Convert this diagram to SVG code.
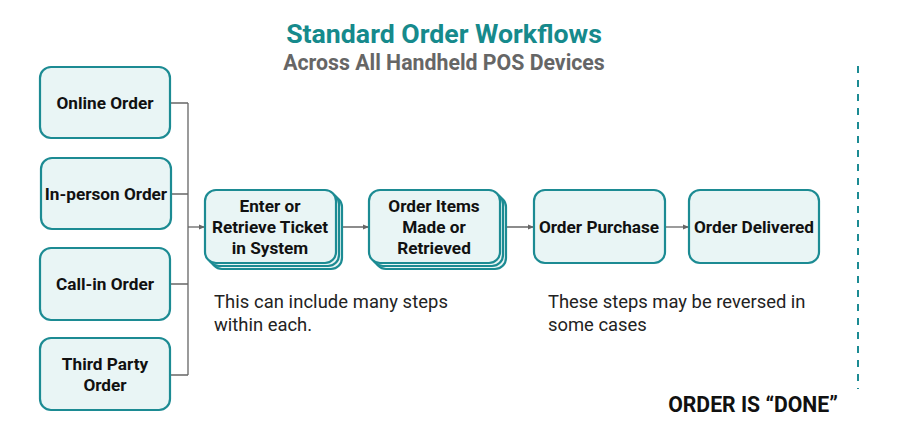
<svg xmlns="http://www.w3.org/2000/svg" width="900" height="423" viewBox="0 0 900 423">
<defs>
<style>
.box{fill:#e9f5f5;stroke:#1c8b93;stroke-width:2.2}
.lbl{font-family:Roboto,"Liberation Sans",sans-serif;font-weight:bold;font-size:17.2px;fill:#111;text-anchor:middle}
.conn{fill:none;stroke:#666;stroke-width:1.3}
.note{font-family:Roboto,"Liberation Sans",sans-serif;font-size:18.4px;fill:#222}
</style>
<marker id="arr" viewBox="0 0 10 10" refX="10" refY="5" markerWidth="6" markerHeight="6" orient="auto" markerUnits="userSpaceOnUse">
<path d="M0,1 L10,5 L0,9 z" fill="#666"/>
</marker>
</defs>
<rect width="900" height="423" fill="#fff"/>
<text x="444" y="43" text-anchor="middle" font-family="Roboto,'Liberation Sans',sans-serif" font-weight="bold" font-size="26.7" fill="#168a8c">Standard Order Workflows</text>
<text x="444" y="70" text-anchor="middle" font-family="Roboto,'Liberation Sans',sans-serif" font-weight="bold" font-size="21.3" fill="#666">Across All Handheld POS Devices</text>

<g id="connectors">
<path class="conn" d="M170,103 H188 M171,194 H188 M170,284 H188 M170,375 H188 M188,103 V375"/>
<path class="conn" d="M188,227 H205" marker-end="url(#arr)"/>
<path class="conn" d="M336,227 H369" marker-end="url(#arr)"/>
<path class="conn" d="M500,227 H534" marker-end="url(#arr)"/>
<path class="conn" d="M665,227 H689" marker-end="url(#arr)"/>
</g>

<g id="online-order"><rect class="box" x="40" y="67" width="130" height="71" rx="11"/><text class="lbl" x="105" y="109">Online Order</text></g>
<g id="inperson-order"><rect class="box" x="41" y="158" width="130" height="71" rx="11"/><text class="lbl" x="106" y="200">In-person Order</text></g>
<g id="callin-order"><rect class="box" x="40" y="248" width="130" height="72" rx="11"/><text class="lbl" x="105" y="290">Call-in Order</text></g>
<g id="thirdparty-order"><rect class="box" x="40" y="338" width="130" height="72" rx="11"/><text class="lbl" x="105" y="370">Third Party</text><text class="lbl" x="105" y="391">Order</text></g>

<g id="enter-ticket">
<rect class="box" x="211" y="196" width="131" height="73" rx="11"/>
<rect class="box" x="208" y="193" width="131" height="73" rx="11"/>
<rect class="box" x="205" y="190" width="131" height="73" rx="11"/>
<text class="lbl" x="270" y="212">Enter or</text><text class="lbl" x="270" y="233">Retrieve Ticket</text><text class="lbl" x="270" y="254">in System</text>
</g>
<g id="order-items">
<rect class="box" x="375" y="196" width="131" height="73" rx="11"/>
<rect class="box" x="372" y="193" width="131" height="73" rx="11"/>
<rect class="box" x="369" y="190" width="131" height="73" rx="11"/>
<text class="lbl" x="434" y="212">Order Items</text><text class="lbl" x="434" y="233">Made or</text><text class="lbl" x="434" y="254">Retrieved</text>
</g>
<g id="order-purchase"><rect class="box" x="534" y="190" width="131" height="73" rx="11"/><text class="lbl" x="599" y="233">Order Purchase</text></g>
<g id="order-delivered"><rect class="box" x="689" y="190" width="130" height="73" rx="11"/><text class="lbl" x="754" y="233">Order Delivered</text></g>

<text class="note" x="214" y="308" textLength="234" lengthAdjust="spacing">This can include many steps</text>
<text class="note" x="214" y="331">within each.</text>
<text class="note" x="548" y="308">These steps may be reversed in</text>
<text class="note" x="548" y="331">some cases</text>

<line x1="858" y1="66" x2="858" y2="389" stroke="#1c8b93" stroke-width="2" stroke-dasharray="7 7"/>
<text x="753" y="412" text-anchor="middle" font-family="Roboto,'Liberation Sans',sans-serif" font-weight="bold" font-size="21.2" fill="#111">ORDER IS “DONE”</text>
</svg>
